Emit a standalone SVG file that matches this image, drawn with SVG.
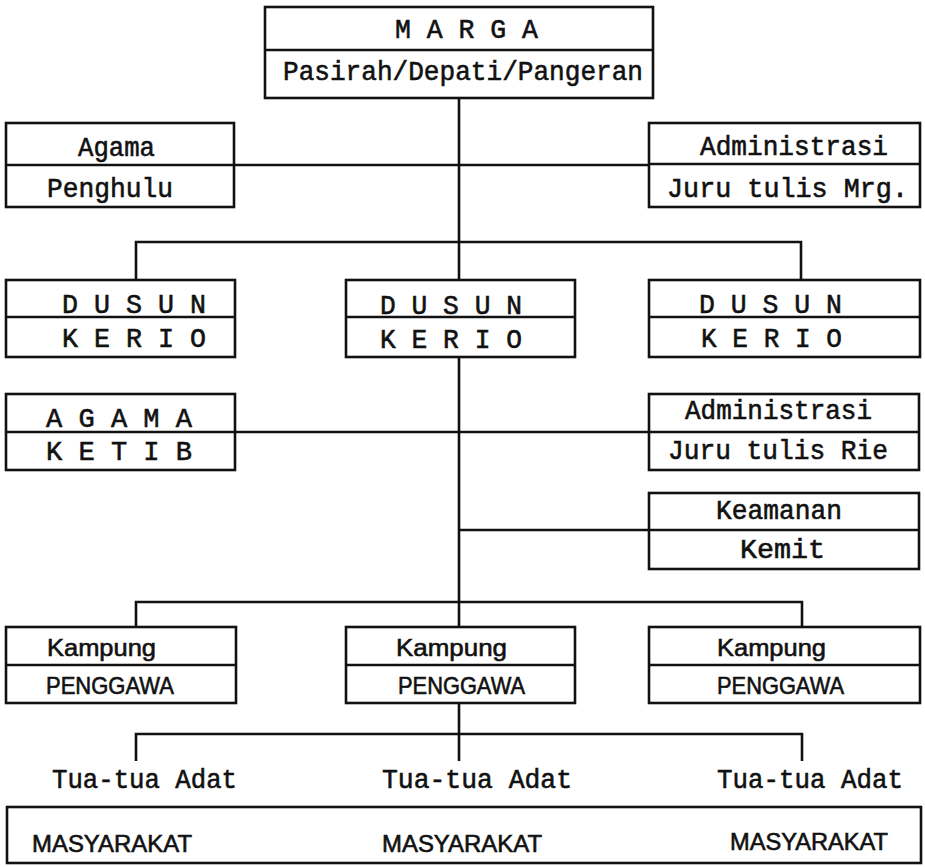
<svg xmlns="http://www.w3.org/2000/svg" width="925" height="867" viewBox="0 0 925 867">
<style>
.b{fill:none;stroke:#111;stroke-width:2.6}
.l{fill:none;stroke:#111;stroke-width:2.6}
.m{font-family:"Liberation Mono",monospace;font-size:28px;fill:#111;stroke:#111;stroke-width:0.6}
.s{font-family:"Liberation Sans",sans-serif;font-size:24px;fill:#111;stroke:#111;stroke-width:0.6}
</style>
<rect width="925" height="867" fill="#fff"/>
<g id="connectors">
<path class="l" d="M459,98V280M459,357V627M459,703V761"/>
<path class="l" d="M234,165H649"/>
<path class="l" d="M136,280V242H801V280"/>
<path class="l" d="M235,432H649"/>
<path class="l" d="M459,530H649"/>
<path class="l" d="M136,627V602H802V627"/>
<path class="l" d="M136,761V734H802V761"/>
</g>
<g id="marga">
<rect class="b" x="265" y="7" width="388" height="91"/>
<path class="l" d="M265,50H653"/>
<text class="m" x="395" y="38" textLength="143" lengthAdjust="spacingAndGlyphs">M A R G A</text>
<text class="m" x="283" y="80" textLength="360" lengthAdjust="spacingAndGlyphs">Pasirah/Depati/Pangeran</text>
</g>
<g id="agama1">
<rect class="b" x="6" y="123" width="228" height="84"/>
<path class="l" d="M6,165H234"/>
<text class="m" x="78" y="156" textLength="77" lengthAdjust="spacingAndGlyphs">Agama</text>
<text class="m" x="47" y="197" textLength="126" lengthAdjust="spacingAndGlyphs">Penghulu</text>
</g>
<g id="admin1">
<rect class="b" x="649" y="123" width="271" height="84"/>
<path class="l" d="M649,164H920"/>
<text class="m" x="700" y="155" textLength="188" lengthAdjust="spacingAndGlyphs">Administrasi</text>
<text class="m" x="667" y="197" textLength="241" lengthAdjust="spacingAndGlyphs">Juru tulis Mrg.</text>
</g>
<g id="dusun-left">
<rect class="b" x="6" y="280" width="229" height="77"/>
<path class="l" d="M6,317H235"/>
<text class="m" x="62" y="313" textLength="144" lengthAdjust="spacingAndGlyphs">D U S U N</text>
<text class="m" x="62" y="347" textLength="144" lengthAdjust="spacingAndGlyphs">K E R I O</text>
</g>
<g id="dusun-mid">
<rect class="b" x="346" y="280" width="229" height="77"/>
<path class="l" d="M346,317H575"/>
<text class="m" x="380" y="314" textLength="142" lengthAdjust="spacingAndGlyphs">D U S U N</text>
<text class="m" x="380" y="348" textLength="142" lengthAdjust="spacingAndGlyphs">K E R I O</text>
</g>
<g id="dusun-right">
<rect class="b" x="649" y="280" width="271" height="77"/>
<path class="l" d="M649,317H920"/>
<text class="m" x="699" y="313" textLength="143" lengthAdjust="spacingAndGlyphs">D U S U N</text>
<text class="m" x="701" y="347" textLength="141" lengthAdjust="spacingAndGlyphs">K E R I O</text>
</g>
<g id="agama2">
<rect class="b" x="6" y="394" width="229" height="76"/>
<path class="l" d="M6,432H235"/>
<text class="m" x="46" y="427" textLength="146" lengthAdjust="spacingAndGlyphs">A G A M A</text>
<text class="m" x="46" y="460" textLength="146" lengthAdjust="spacingAndGlyphs">K E T I B</text>
</g>
<g id="admin2">
<rect class="b" x="649" y="394" width="270" height="76"/>
<path class="l" d="M649,432H919"/>
<text class="m" x="685" y="419" textLength="187" lengthAdjust="spacingAndGlyphs">Administrasi</text>
<text class="m" x="668" y="459" textLength="220" lengthAdjust="spacingAndGlyphs">Juru tulis Rie</text>
</g>
<g id="keamanan">
<rect class="b" x="649" y="493" width="270" height="76"/>
<path class="l" d="M649,530H919"/>
<text class="m" x="716" y="519" textLength="126" lengthAdjust="spacingAndGlyphs">Keamanan</text>
<text class="m" x="740" y="558" textLength="85" lengthAdjust="spacingAndGlyphs">Kemit</text>
</g>
<g id="kampung-left">
<rect class="b" x="6" y="627" width="230" height="76"/>
<path class="l" d="M6,665H236"/>
<text class="s" x="47" y="656" textLength="109" lengthAdjust="spacingAndGlyphs">Kampung</text>
<text class="s" x="46" y="694" textLength="128" lengthAdjust="spacingAndGlyphs">PENGGAWA</text>
</g>
<g id="kampung-mid">
<rect class="b" x="346" y="627" width="229" height="76"/>
<path class="l" d="M346,665H575"/>
<text class="s" x="396" y="656" textLength="111" lengthAdjust="spacingAndGlyphs">Kampung</text>
<text class="s" x="398" y="694" textLength="127" lengthAdjust="spacingAndGlyphs">PENGGAWA</text>
</g>
<g id="kampung-right">
<rect class="b" x="649" y="627" width="271" height="76"/>
<path class="l" d="M649,665H920"/>
<text class="s" x="717" y="656" textLength="109" lengthAdjust="spacingAndGlyphs">Kampung</text>
<text class="s" x="717" y="694" textLength="127" lengthAdjust="spacingAndGlyphs">PENGGAWA</text>
</g>
<g id="tua-tua">
<text class="m" x="52" y="788" textLength="185" lengthAdjust="spacingAndGlyphs">Tua-tua Adat</text>
<text class="m" x="382" y="788" textLength="190" lengthAdjust="spacingAndGlyphs">Tua-tua Adat</text>
<text class="m" x="717" y="788" textLength="186" lengthAdjust="spacingAndGlyphs">Tua-tua Adat</text>
</g>
<g id="masyarakat">
<rect class="b" x="7" y="807" width="914" height="56"/>
<text class="s" x="32" y="852" textLength="160" lengthAdjust="spacingAndGlyphs">MASYARAKAT</text>
<text class="s" x="382" y="852" textLength="160" lengthAdjust="spacingAndGlyphs">MASYARAKAT</text>
<text class="s" x="730" y="850" textLength="158" lengthAdjust="spacingAndGlyphs">MASYARAKAT</text>
</g>
</svg>
